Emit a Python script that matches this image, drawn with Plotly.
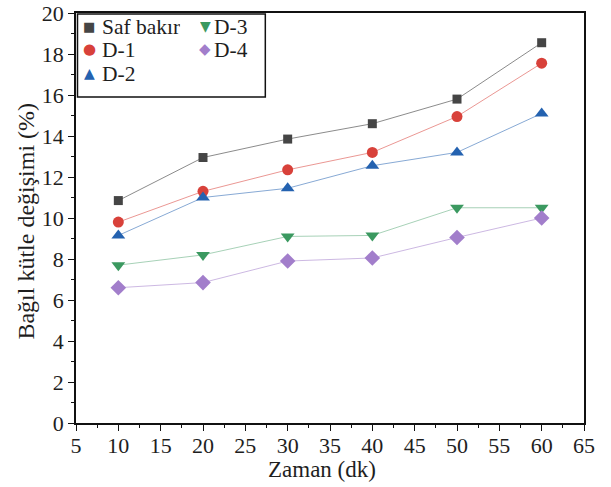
import plotly.graph_objects as go

time_min = [10, 20, 30, 40, 50, 60]
saf_bakir = [10.85, 12.95, 13.85, 14.6, 15.8, 18.55]
d1 = [9.8, 11.3, 12.35, 13.2, 14.95, 17.55]
d2 = [9.15, 11.0, 11.45, 12.55, 13.2, 15.1]
d3 = [7.7, 8.2, 9.1, 9.15, 10.5, 10.5]
d4 = [6.6, 6.85, 7.9, 8.05, 9.05, 10.0]
series_names = ["Saf bakır", "D-1", "D-2", "D-3", "D-4"]
x_title = "Zaman (dk)"
y_title = "Bağıl kütle değişimi (%)"

styles = [
    ("#454545", "rgba(90,90,90,0.7)", "square", 9, "■", 13),
    ("#d8413a", "rgba(216,65,58,0.55)", "circle", 11, "●", 15),
    ("#2462b0", "rgba(36,98,176,0.55)", "triangle-up", 12, "▲", 14),
    ("#3b9960", "rgba(59,153,96,0.45)", "triangle-down", 12, "▼", 14),
    ("#a27ecb", "rgba(162,126,203,0.55)", "diamond", 12, "◆", 15),
]
values = [saf_bakir, d1, d2, d3, d4]

FONT = "Times New Roman, Liberation Serif, DejaVu Serif, Noto Serif, serif"
TXT = "#1e1e1e"

W, H = 611, 487
L, R, T, B = 75.5, 27, 13, 64
pw, ph = W - L - R, H - T - B

def px_x(p):
    return (p - L) / pw

def px_y(p):
    return (H - B - p) / ph

fig = go.Figure()
for name, vals, (mc, lc, sym, size, glyph, gsize) in zip(series_names, values, styles):
    fig.add_trace(go.Scatter(
        x=time_min, y=vals, name=name, mode="lines+markers",
        line=dict(color=lc, width=1),
        marker=dict(symbol=sym, size=size, color=mc, line=dict(width=0)),
        showlegend=False,
    ))

# legend (manual, two columns)
leg_pos = [(89, 101, 26), (89, 101, 49), (89, 101, 73), (205, 213, 26), (205, 213, 49)]
annotations = []
for name, (mc, lc, sym, size, glyph, gsize), (sx, tx, ty) in zip(series_names, styles, leg_pos):
    annotations.append(dict(xref="paper", yref="paper", x=px_x(sx), y=px_y(ty),
                            text=glyph, showarrow=False, xanchor="center", yanchor="middle",
                            height=14, borderpad=0,
                            font=dict(family="DejaVu Sans", size=gsize, color=mc)))
    annotations.append(dict(xref="paper", yref="paper", x=px_x(tx), y=px_y(ty + 1),
                            text=name, showarrow=False, xanchor="left", yanchor="middle",
                            height=22, borderpad=0,
                            font=dict(family=FONT, size=21.5, color=TXT)))

# axis titles
annotations.append(dict(xref="paper", yref="paper", x=px_x(322), y=px_y(469),
                        text=x_title, showarrow=False, xanchor="center", yanchor="middle",
                        font=dict(family=FONT, size=23, color=TXT)))
annotations.append(dict(xref="paper", yref="paper", x=px_x(25), y=px_y(221),
                        text=y_title, showarrow=False, xanchor="center", yanchor="middle",
                        textangle=-90,
                        font=dict(family=FONT, size=24, color=TXT)))

fig.update_layout(
    width=W, height=H,
    margin=dict(l=L, r=R, t=T, b=B, autoexpand=False),
    paper_bgcolor="white", plot_bgcolor="white",
    font=dict(family=FONT, size=21, color=TXT),
    showlegend=False,
    annotations=annotations,
    shapes=[dict(type="rect", xref="paper", yref="paper",
                 x0=px_x(77), x1=px_x(265), y0=px_y(97), y1=px_y(14),
                 line=dict(color="#111", width=1.5), fillcolor="rgba(0,0,0,0)")],
)

fig.update_xaxes(
    range=[5, 65], dtick=5, tick0=5, automargin=False,
    showline=True, linecolor="#111", linewidth=1.5, mirror=True,
    ticks="outside", ticklen=6, tickcolor="#111", tickwidth=1,
    minor=dict(dtick=2.5, ticks="outside", ticklen=3, tickcolor="#111", showgrid=False),
    showgrid=False, zeroline=False, ticklabelstandoff=-4,
    tickfont=dict(family=FONT, size=22, color=TXT),
)
fig.update_yaxes(
    range=[0, 20], dtick=2, automargin=False,
    showline=True, linecolor="#111", linewidth=1.5, mirror=True,
    ticks="outside", ticklen=6, tickcolor="#111", tickwidth=1,
    minor=dict(dtick=1, ticks="outside", ticklen=3, tickcolor="#111", showgrid=False),
    showgrid=False, zeroline=False,
    tickfont=dict(family=FONT, size=22, color=TXT),
)

fig.write_html("out.html", config={"displayModeBar": False},
               post_script="document.body.style.margin='0';")
